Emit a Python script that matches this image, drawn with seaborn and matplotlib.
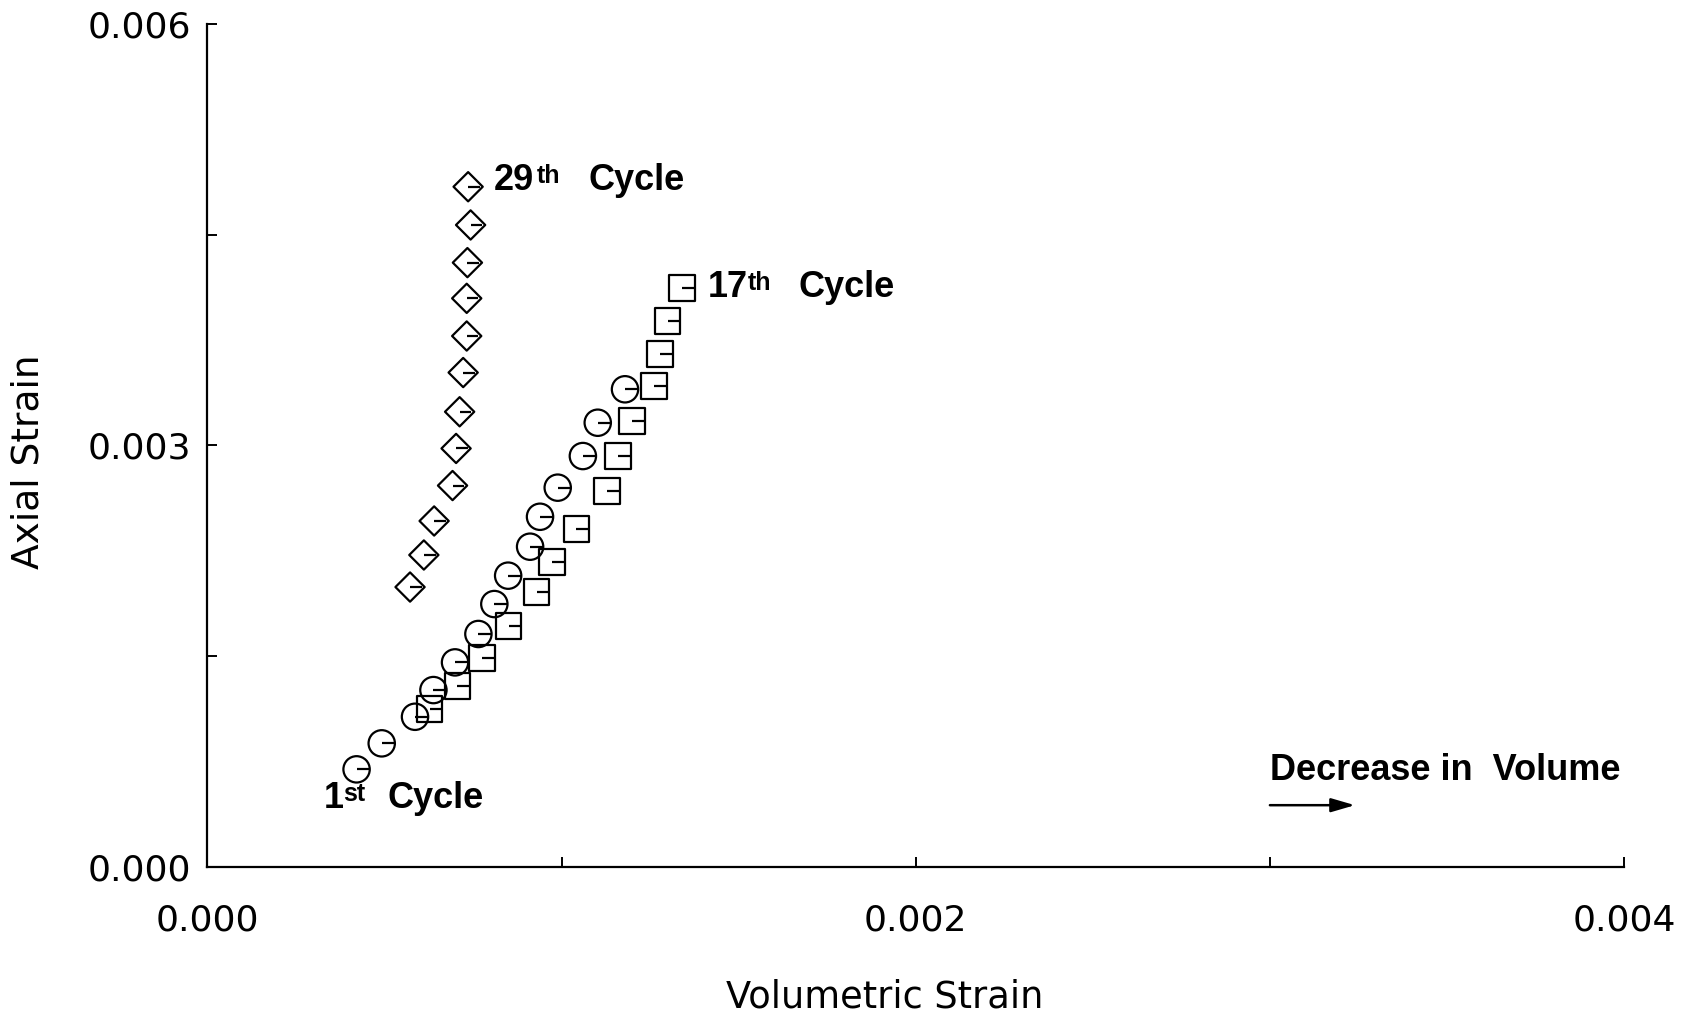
import numpy as np
import pandas as pd
import matplotlib
matplotlib.use("Agg")
import matplotlib.pyplot as plt
from matplotlib.path import Path
from matplotlib.ticker import FixedLocator
import seaborn as sns

# ---- data: volumetric strain (x) vs axial strain (y) per loading cycle ----
cycle1_vol = [0.000421, 0.000492, 0.000586, 0.000638, 0.000699, 0.000765, 0.000810,
              0.000849, 0.000911, 0.000939, 0.000989, 0.001060, 0.001102, 0.001179]
cycle1_axial = [0.000695, 0.000880, 0.001069, 0.001259, 0.001456, 0.001658, 0.001871,
                0.002073, 0.002279, 0.002492, 0.002699, 0.002924, 0.003161, 0.003399]

cycle17_vol = [0.000628, 0.000705, 0.000775, 0.000851, 0.000930, 0.000973, 0.001041,
               0.001128, 0.001159, 0.001199, 0.001261, 0.001278, 0.001300, 0.001340]
cycle17_axial = [0.001124, 0.001288, 0.001487, 0.001715, 0.001957, 0.002170, 0.002405,
                 0.002675, 0.002924, 0.003173, 0.003422, 0.003650, 0.003885, 0.004120]

cycle29_vol = [0.000572, 0.000611, 0.000640, 0.000692, 0.000702, 0.000712, 0.000722,
               0.000732, 0.000732, 0.000734, 0.000743, 0.000736]
cycle29_axial = [0.001992, 0.002220, 0.002462, 0.002714, 0.002978, 0.003239, 0.003518,
                 0.003778, 0.004046, 0.004300, 0.004568, 0.004840]

x_ticks = [0.000, 0.002, 0.004]
x_tick_labels = ["0.000", "0.002", "0.004"]
x_minor = [0.001, 0.003]
y_ticks = [0.000, 0.003, 0.006]
y_tick_labels = ["0.000", "0.003", "0.006"]
y_minor = [0.0015, 0.0045]

# ---- style ----
sns.set_theme(style="ticks")
plt.rcParams["font.family"] = ["DejaVu Sans"]

fig = plt.figure(figsize=(16.91, 10.21), dpi=100)
ax = fig.add_axes([0.1227, 0.1508, 0.8377, 0.8260])

frames = {
    "1st": pd.DataFrame({"vol": cycle1_vol, "axial": cycle1_axial}),
    "17th": pd.DataFrame({"vol": cycle17_vol, "axial": cycle17_axial}),
    "29th": pd.DataFrame({"vol": cycle29_vol, "axial": cycle29_axial}),
}

# open symbol + a short stroke from its centre to the right
tick_mark = Path([[0.0, 0.0], [1.0, 0.0]], [Path.MOVETO, Path.LINETO])
symbols = {"1st": ("o", 360, 360), "17th": ("s", 330, 330), "29th": ("D", 222, 282)}

for key, df in frames.items():
    mk, s_outer, s_tick = symbols[key]
    sns.scatterplot(data=df, x="vol", y="axial", ax=ax, marker=mk, s=s_outer,
                    facecolor="none", edgecolor="black", linewidth=1.6, zorder=3)
    sns.scatterplot(data=df, x="vol", y="axial", ax=ax, marker=tick_mark, s=s_tick,
                    facecolor="none", edgecolor="black", linewidth=1.6, zorder=3)

ax.set_xlim(0, 0.004)
ax.set_ylim(0, 0.006)

ax.xaxis.set_major_locator(FixedLocator(x_ticks))
ax.xaxis.set_minor_locator(FixedLocator(x_minor))
ax.yaxis.set_major_locator(FixedLocator(y_ticks))
ax.yaxis.set_minor_locator(FixedLocator(y_minor))
ax.set_xticklabels(x_tick_labels)
ax.set_yticklabels(y_tick_labels)

ax.tick_params(axis="both", which="both", direction="in", length=7, width=1.4,
               color="black", labelsize=26, labelcolor="black")
ax.tick_params(axis="x", which="major", pad=26)
ax.tick_params(axis="y", which="major", pad=11.5)

for side in ("top", "right"):
    ax.spines[side].set_visible(False)
for side in ("left", "bottom"):
    ax.spines[side].set_linewidth(1.6)
    ax.spines[side].set_color("black")

ax.set_xlabel("Volumetric Strain", fontsize=26.5, color="black")
ax.set_ylabel("Axial Strain", fontsize=27, color="black")
ax.xaxis.set_label_coords(0.478, -0.154)
ax.yaxis.set_label_coords(-0.1264, 0.480)
ax.xaxis.label.set_va("center")
ax.yaxis.label.set_va("center")


def cycle_label(anchor, number, suffix, base_dx, base_dy, sup_dx, word_dx):
    """Bold 'Nth Cycle' label placed in point offsets from a data point."""
    kw = dict(xy=anchor, textcoords="offset points", family="Liberation Sans",
              fontweight="bold", va="baseline", ha="left", color="black")
    ax.annotate(number, xytext=(base_dx, base_dy), fontsize=26, **kw)
    ax.annotate(suffix, xytext=(sup_dx, base_dy + 5), fontsize=18, **kw)
    ax.annotate("Cycle", xytext=(word_dx, base_dy), fontsize=26, **kw)


cycle_label((cycle29_vol[-1], cycle29_axial[-1]), "29", "th", 18.6, -2.5, 49.5, 87)
cycle_label((cycle17_vol[-1], cycle17_axial[-1]), "17", "th", 18.6, -6.5, 47, 84)
cycle_label((cycle1_vol[0], cycle1_axial[0]), "1", "st", -23.3, -27.9, -9.5, 22.5)

# direction note
ax.text(0.003, 0.00062, "Decrease in  Volume", fontsize=26, fontweight="bold",
        family="Liberation Sans", va="baseline", ha="left", color="black")
ax.annotate("", xy=(0.00324, 0.00044), xytext=(0.003, 0.00044),
            arrowprops=dict(arrowstyle="-|>,head_length=1.2,head_width=0.35",
                            color="black", lw=1.8, shrinkA=0, shrinkB=0))

fig.savefig("out.png", dpi=100, facecolor="white")
